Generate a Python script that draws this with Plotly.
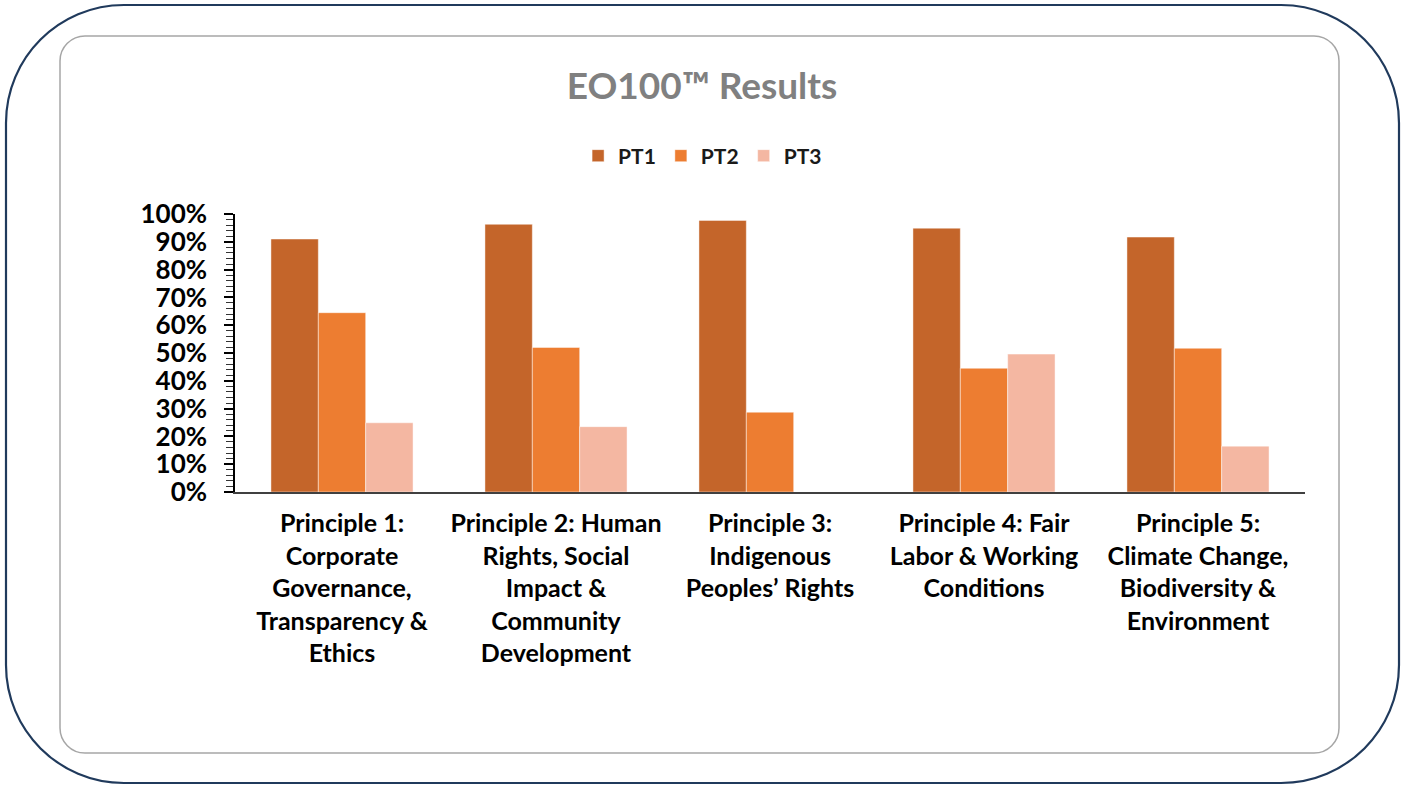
import plotly.graph_objects as go

categories = [
    "Principle 1:<br>Corporate<br>Governance,<br>Transparency &<br>Ethics",
    "Principle 2: Human<br>Rights, Social<br>Impact &<br>Community<br>Development",
    "Principle 3:<br>Indigenous<br>Peoples\u2019 Rights",
    "Principle 4: Fair<br>Labor & Working<br>Conditions",
    "Principle 5:<br>Climate Change,<br>Biodiversity &<br>Environment",
]
pt1 = [0.91, 0.963, 0.977, 0.949, 0.917]
pt2 = [0.645, 0.52, 0.287, 0.445, 0.517]
pt3 = [0.249, 0.235, None, 0.496, 0.165]
series_names = ["PT1", "PT2", "PT3"]
colors = ["#C4652A", "#ED7D31", "#F4B7A2"]

W, H = 1404, 785
L, R = 235, 1305
T, B = 214, 492

def px2paper(x, y):
    return (x - L) / (R - L), (B - y) / (B - T)

def rounded_rect_path(x0, y0, x1, y1, r):
    k = 0.5523 * r
    def P(x, y):
        a, b = px2paper(x, y)
        return f"{a:.5f},{b:.5f}"
    d = f"M {P(x0 + r, y0)} L {P(x1 - r, y0)} "
    d += f"C {P(x1 - r + k, y0)} {P(x1, y0 + r - k)} {P(x1, y0 + r)} "
    d += f"L {P(x1, y1 - r)} "
    d += f"C {P(x1, y1 - r + k)} {P(x1 - r + k, y1)} {P(x1 - r, y1)} "
    d += f"L {P(x0 + r, y1)} "
    d += f"C {P(x0 + r - k, y1)} {P(x0, y1 - r + k)} {P(x0, y1 - r)} "
    d += f"L {P(x0, y0 + r)} "
    d += f"C {P(x0, y0 + r - k)} {P(x0 + r - k, y0)} {P(x0 + r, y0)} Z"
    return d

fig = go.Figure()
for name, vals, c in zip(series_names, [pt1, pt2, pt3], colors):
    fig.add_trace(go.Bar(
        x=categories, y=vals, name=name,
        marker=dict(color=c, line=dict(color="rgba(255,255,255,0.45)", width=1)),
    ))

font_family = "Lato"
fig.update_layout(
    width=W, height=H,
    margin=dict(l=L, r=W - R, t=T, b=H - B),
    paper_bgcolor="white", plot_bgcolor="white",
    barmode="group", bargap=0.336, bargroupgap=0,
    title=dict(text="EO100\u2122 Results", x=0.5, xref="container", xanchor="center",
               y=1 - 86 / H, yref="container", yanchor="middle",
               font=dict(family=font_family, size=37, color="#808080", weight="bold")),
    legend=dict(orientation="h", x=0.437, xanchor="center", y=(B - 156) / (B - T),
                yanchor="middle", font=dict(family=font_family, size=21, color="#1a1a1a", weight="bold"),
                itemwidth=30, tracegroupgap=0, bgcolor="rgba(0,0,0,0)"),
    showlegend=True,
    xaxis=dict(showline=True, linecolor="#404040", linewidth=2, ticks="",
               ticklabelstandoff=8,
               tickfont=dict(family=font_family, size=25, color="black", weight="bold"),
               showgrid=False, zeroline=False),
    yaxis=dict(range=[0, 1], dtick=0.1, tickformat=".0%", showgrid=False, zeroline=False,
               showline=True, linecolor="black", linewidth=1.5,
               ticks="outside", ticklen=9, tickwidth=1.5, tickcolor="black",
               ticklabelstandoff=12,
               minor=dict(dtick=0.02, ticks="outside", ticklen=7, tickwidth=1.2, tickcolor="#333333"),
               tickfont=dict(family=font_family, size=26, color="black", weight="bold")),
    yaxis2=dict(range=[0, 1], dtick=0.1, overlaying="y", anchor="x", side="left",
                showgrid=False, zeroline=False, showline=False, showticklabels=False,
                ticks="inside", ticklen=9, tickwidth=1.5, tickcolor="black",
                minor=dict(dtick=0.02, ticks="inside", ticklen=7, tickwidth=1.2, tickcolor="#333333")),
)

fig.add_shape(type="path", xref="paper", yref="paper",
              path=rounded_rect_path(6, 5, 1399, 783, 118),
              line=dict(color="#203A5C", width=2.2), fillcolor="rgba(0,0,0,0)", layer="below")
fig.add_shape(type="path", xref="paper", yref="paper",
              path=rounded_rect_path(60, 36, 1339, 753, 25),
              line=dict(color="#A6A6A6", width=1.5), fillcolor="rgba(0,0,0,0)", layer="below")

fig.write_html("out.html", config={"displayModeBar": False},
               post_script="document.body.style.margin='0';document.body.style.overflow='hidden';")
